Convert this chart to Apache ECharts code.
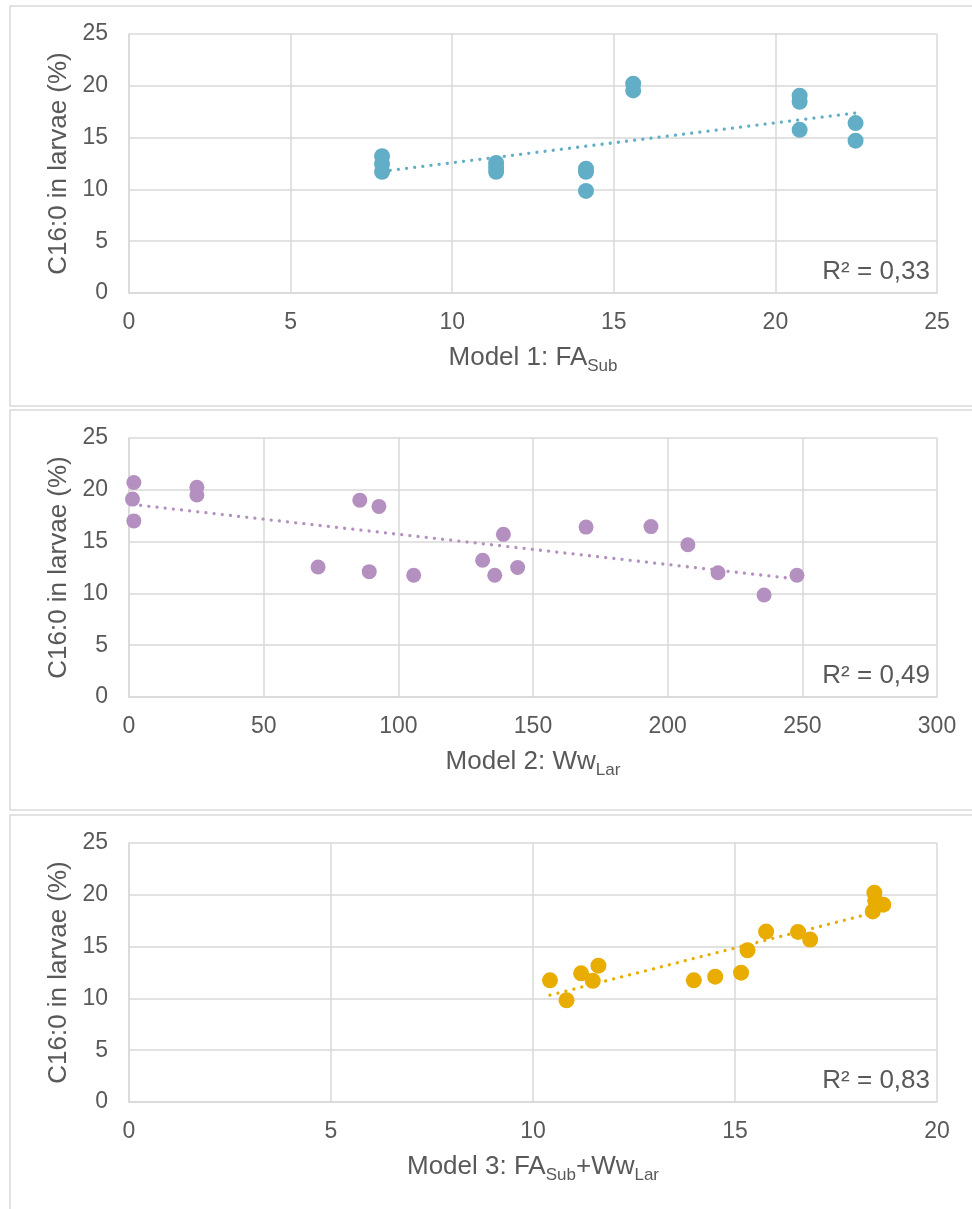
<!DOCTYPE html>
<html>
<head>
<meta charset="utf-8">
<script src="https://cdn.jsdelivr.net/npm/echarts@6/dist/echarts.min.js"></script>
<style>
  html, body { margin: 0; padding: 0; background: #fff; }
  #chart { width: 972px; height: 1209px; }
</style>
</head>
<body>
<div id="chart"></div>
<script>
// Model 1: FA_Sub
var m1X = [7.83, 7.83, 7.83, 11.36, 11.36, 11.36, 14.14, 14.14, 14.14, 15.6, 15.6, 20.75, 20.75, 20.75, 22.48, 22.48];
var m1Y = [13.2, 12.45, 11.7, 12.55, 12.1, 11.7, 12.0, 11.7, 9.85, 20.2, 19.55, 19.05, 18.45, 15.75, 16.4, 14.7];
// Model 2: Ww_Lar
var m2X = [1.8, 1.3, 1.8, 25.2, 25.2, 70.2, 85.7, 89.2, 92.8, 105.7, 131.3, 135.8, 139, 144.3, 169.7, 193.8, 207.5, 218.7, 235.8, 248];
var m2Y = [20.7, 19.1, 17.0, 20.25, 19.5, 12.55, 19.0, 12.1, 18.4, 11.75, 13.2, 11.75, 15.7, 12.5, 16.4, 16.45, 14.7, 12.0, 9.85, 11.75];
// Model 3: FA_Sub + Ww_Lar
var m3X = [10.42, 10.83, 11.19, 11.48, 11.62, 13.98, 14.51, 15.15, 15.31, 15.77, 16.56, 16.86, 18.45, 18.47, 18.67, 18.41];
var m3Y = [11.74, 9.82, 12.42, 11.7, 13.16, 11.74, 12.1, 12.48, 14.65, 16.45, 16.42, 15.68, 20.2, 19.45, 19.05, 18.4];

// axis ranges [min, max, interval]
var xRanges = [[0, 25, 5], [0, 300, 50], [0, 20, 5]];
var yRange = [0, 25, 5];
var r2Labels = ['R² = 0,33', 'R² = 0,49', 'R² = 0,83'];
var xNames = ['{t|Model 1: FA}{s|Sub}', '{t|Model 2: Ww}{s|Lar}', '{t|Model 3: FA}{s|Sub}{t|+Ww}{s|Lar}'];
var yName = 'C16:0 in larvae (%)';

var colors = ['#62AEC6', '#B490C0', '#E8AD00'];
var font = 'Liberation Sans, Arial, sans-serif';
var txt = '#595959';
var gridColor = '#D9D9D9';

// linear trend line (least squares) between min and max x
function trend(xs, ys) {
    var n = xs.length, mx = 0, my = 0;
    for (var i = 0; i < n; i++) { mx += xs[i]; my += ys[i]; }
    mx /= n; my /= n;
    var sxx = 0, sxy = 0;
    for (var j = 0; j < n; j++) {
        sxx += (xs[j] - mx) * (xs[j] - mx);
        sxy += (xs[j] - mx) * (ys[j] - my);
    }
    var b = sxy / sxx, a = my - b * mx;
    var x0 = Math.min.apply(null, xs), x1 = Math.max.apply(null, xs);
    return [[x0, a + b * x0], [x1, a + b * x1]];
}

var panels = [[m1X, m1Y], [m2X, m2Y], [m3X, m3Y]];
var offsets = [0, 404, 809];
var symSizes = [16, 15, 16];

var grids = [], xAxes = [], yAxes = [], series = [], graphics = [];

panels.forEach(function (p, i) {
    var top = 34 + offsets[i];
    grids.push({ left: 129, top: top, width: 808, height: 259 });
    xAxes.push({
        type: 'value', gridIndex: i,
        min: xRanges[i][0], max: xRanges[i][1], interval: xRanges[i][2],
        axisLine: { show: true, lineStyle: { color: gridColor, width: 1.5 } },
        axisTick: { show: false },
        splitLine: { show: true, lineStyle: { color: gridColor, width: 1.5 } },
        axisLabel: { color: txt, fontSize: 23, fontFamily: font, margin: 18 },
        name: xNames[i], nameLocation: 'middle', nameGap: 52,
        nameTextStyle: {
            rich: {
                t: { fontSize: 26, color: txt, fontFamily: font, lineHeight: 30, verticalAlign: 'top' },
                s: { fontSize: 17, color: txt, fontFamily: font, lineHeight: 17, padding: [13, 0, 0, 0], verticalAlign: 'top' }
            }
        }
    });
    yAxes.push({
        type: 'value', gridIndex: i,
        min: yRange[0], max: yRange[1], interval: yRange[2],
        axisLine: { show: true, lineStyle: { color: gridColor, width: 1.5 } },
        axisTick: { show: false },
        splitLine: { show: true, lineStyle: { color: gridColor, width: 1.5 } },
        axisLabel: { color: txt, fontSize: 23, fontFamily: font, margin: 21 },
        name: yName, nameLocation: 'middle', nameGap: 56,
        nameTextStyle: { color: txt, fontSize: 26, fontFamily: font }
    });
    series.push({
        type: 'scatter', xAxisIndex: i, yAxisIndex: i,
        symbolSize: symSizes[i],
        itemStyle: { color: colors[i], opacity: 1 },
        data: p[0].map(function (x, k) { return [x, p[1][k]]; }),
        z: 2
    });
    series.push({
        type: 'line', xAxisIndex: i, yAxisIndex: i,
        symbol: 'none', silent: true,
        lineStyle: { color: colors[i], width: 3.3, type: [0.01, 8.2], cap: 'round' },
        data: trend(p[0], p[1]),
        z: 3
    });
    // panel frame
    graphics.push({
        type: 'rect', silent: true, z: -1,
        shape: { x: 10, y: 6 + offsets[i], width: 975, height: 400 },
        style: { fill: 'none', stroke: gridColor, lineWidth: 1.5 }
    });
    graphics.push({
        type: 'text', silent: true, z: 10,
        x: 930, y: 272 + offsets[i],
        style: { text: r2Labels[i], fill: txt, font: '26px ' + font, align: 'right', verticalAlign: 'middle' }
    });
});

var myChart = echarts.init(document.getElementById('chart'));
myChart.setOption({
    animation: false,
    backgroundColor: '#fff',
    grid: grids,
    xAxis: xAxes,
    yAxis: yAxes,
    series: series,
    graphic: graphics
});
</script>
</body>
</html>
